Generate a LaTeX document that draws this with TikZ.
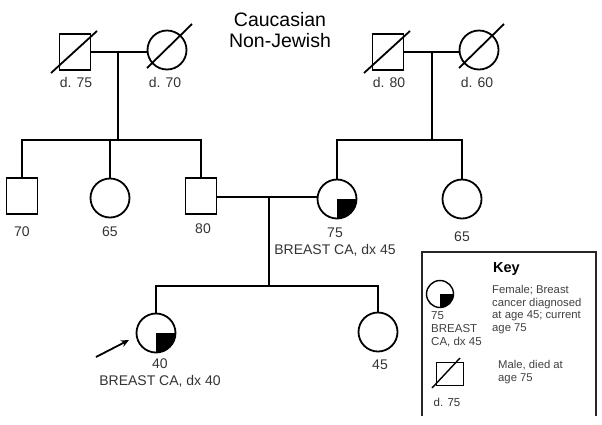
\documentclass[tikz,border=0pt]{standalone}
\usepackage{fontspec}
\setmainfont{Liberation Sans}
\usepackage{tikz}
\usetikzlibrary{arrows.meta,positioning}

\begin{document}
\begin{tikzpicture}[x=1pt, y=-1pt]
        % Define styles
        \tikzset{
            male/.style={rectangle, draw, line width=1.8pt, minimum width=31pt, minimum height=36pt, inner sep=0pt},
            female/.style={circle, draw, line width=1.8pt, minimum size=39pt, inner sep=0pt},
            affected/.style={path picture={\fill (path picture bounding box.center) rectangle (path picture bounding box.south east);}},
            line/.style={line width=1.8pt},
            lbl/.style={font=\fontsize{14}{16}\selectfont, text=black!80, inner sep=0pt},
            keytext/.style={font=\fontsize{11.3}{12.8}\selectfont, text=black!75, align=left, anchor=north west, inner sep=0pt}
        }
        \useasboundingbox (0,0) rectangle (602,424);

        % Title
        \node [font=\fontsize{19.5}{20.5}\selectfont, align=center] (title) at (280,30) {Caucasian\\Non-Jewish};

        % Create nodes: grandparents
        \node [male] (gf1) at (75,52) {};
        \node [female] (gm1) at (167,50) {};
        \node [male] (gf2) at (388,52) {};
        \node [female] (gm2) at (479,50) {};

        % Create nodes: parents and siblings
        \node [male] (u1) at (22,196) {};
        \node [female] (a1) at (110,198) {};
        \node [male] (father) at (201,196) {};
        \node [female, affected] (mother) at (337,199) {};
        \node [female] (a2) at (462,199) {};

        % Create nodes: children
        \node [female, affected] (proband) at (156,333) {};
        \node [female] (sister) at (378,332) {};

        % Deceased marks
        \draw [line] (gf1.center) ++(-24,21) -- ++(46,-42);
        \draw [line] (gm1.center) ++(-20,18) -- ++(45,-44);
        \draw [line] (gf2.center) ++(-24,21) -- ++(46,-42);
        \draw [line] (gm2.center) ++(-20,18) -- ++(45,-44);

        % Marriage and sibship lines
        \coordinate (m1) at (118,52);
        \coordinate (m2) at (432,52);
        \coordinate (m3) at (269,197);
        \draw [line] (gf1.east |- m1) -- (gm1.west |- m1);
        \draw [line] (m1) -- (118,140);
        \draw [line] (u1.north) -- (u1 |- 0,140) -- (father |- 0,140) -- (father.north);
        \draw [line] (a1.north) -- (a1 |- 0,140);
        \draw [line] (gf2.east |- m2) -- (gm2.west |- m2);
        \draw [line] (m2) -- (432,140);
        \draw [line] (mother.north) -- (mother |- 0,140) -- (a2 |- 0,140) -- (a2.north);
        \draw [line] (father.east |- m3) -- (mother.west |- m3);
        \draw [line] (m3) -- (269,286);
        \draw [line] (proband.north) -- (proband |- 0,286) -- (sister |- 0,286) -- (sister.north);

        % Proband arrow
        \coordinate (ptail) at (96,357);
        \draw [line, -{Stealth[length=8pt, width=7pt]}] (ptail) -- (129,340);

        % Add labels
        \node [lbl] (d1) at (76,82) {d. 75};
        \node [lbl] (d2) at (165,82) {d. 70};
        \node [lbl] (d3) at (389,82) {d. 80};
        \node [lbl] (d4) at (477,82) {d. 60};
        \node [lbl] (l70) at (22,232) {70};
        \node [lbl] (l65a) at (110,232) {65};
        \node [lbl] (l80) at (203,229) {80};
        \node [lbl] (l75) at (335,233) {75};
        \node [lbl] (dx45) at (335,250) {BREAST CA, dx 45};
        \node [lbl] (l65b) at (462,237) {65};
        \node [lbl] (l40) at (160,364) {40};
        \node [lbl] (dx40) at (160,381) {BREAST CA, dx 40};
        \node [lbl] (l45) at (380,365) {45};

        % Key
        \draw [line width=1.2pt, black!85] (422,416) -- (422,252) -- (596,252) -- (596,416);
        \node [font=\fontsize{14.5}{16}\selectfont\bfseries, anchor=west, inner sep=0pt] (key) at (493,269) {Key};
        \node [female, affected, minimum size=27pt, line width=1.4pt] (kf) at (440,294) {};
        \node [keytext, font=\fontsize{11.5}{13.2}\selectfont] (kfl) at (431,311) {75\\BREAST\\CA, dx 45};
        \node [keytext] (kft) at (492,285) {Female; Breast\\cancer diagnosed\\at age 45; current\\age 75};
        \node [male, minimum width=27pt, minimum height=23pt, line width=1.4pt] (km) at (450,374) {};
        \draw [line width=1.4pt] (km.center) ++(-18,14) -- ++(28,-30);
        \node [lbl, font=\fontsize{11.5}{13}\selectfont] (kml) at (447,402) {d. 75};
        \node [keytext] (kmt) at (498,360) {Male, died at\\age 75};
    \end{tikzpicture}
\end{document}
